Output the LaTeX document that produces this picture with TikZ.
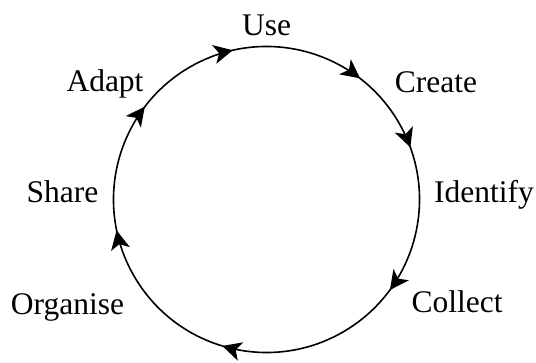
\documentclass[tikz,border=0pt]{standalone}
\usepackage{fontspec}
\setmainfont{Liberation Serif}
\usetikzlibrary{arrows.meta,decorations.markings}
\tikzset{cyctip/.tip={Stealth[length=19pt,width=19pt,inset=5pt]}}
\begin{document}
\begin{tikzpicture}[x=1pt,y=1pt,
  lbl/.style={anchor=base,inner sep=0pt,font=\fontsize{31.5}{36}\selectfont},
  ring/.style={line width=1.6pt,postaction=decorate,decoration={markings,
    mark=at position 0.048 with {\arrow{cyctip}},
    mark=at position 0.188 with {\arrow{cyctip}},
    mark=at position 0.278 with {\arrow{cyctip}},
    mark=at position 0.434 with {\arrow{cyctip}},
    mark=at position 0.630 with {\arrow{cyctip}},
    mark=at position 0.801 with {\arrow{cyctip}},
    mark=at position 0.937 with {\arrow{cyctip}}}}]
\useasboundingbox (0,0) rectangle (536,363);
\coordinate (c) at (266.5,163.5);
\draw[ring] (c) ++(120:153) arc[start angle=120,end angle=-240,radius=153];
\node[lbl] (use) at (266.5,327) {Use};
\node[lbl] (create) at (436,270) {Create};
\node[lbl] (identify) at (484,160) {Identify};
\node[lbl] (collect) at (457,50) {Collect};
\node[lbl] (organise) at (67.5,48) {Organise};
\node[lbl] (share) at (62.5,160) {Share};
\node[lbl] (adapt) at (105,271) {Adapt};
\end{tikzpicture}
\end{document}
